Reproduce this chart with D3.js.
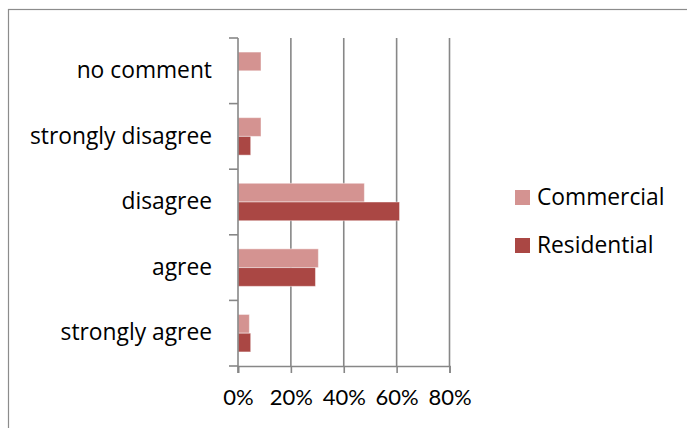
<!DOCTYPE html>
<html>
<head>
<meta charset="utf-8">
<script src="https://cdn.jsdelivr.net/npm/d3@7"></script>
<style>
  html, body { margin: 0; padding: 0; background: #fff; }
  svg { display: block; }
  text { font-family: "Open Sans", Lato, sans-serif; fill: #000; }
  .num { font-family: Lato, "Open Sans", sans-serif; }
</style>
</head>
<body>
<svg id="chart" width="687" height="428"></svg>
<script>
// Survey responses, share of respondents per answer
const categories = ["strongly agree", "agree", "disagree", "strongly disagree", "no comment"];
const seriesNames = ["Commercial", "Residential"];
const commercial = [0.043, 0.304, 0.478, 0.087, 0.087];
const residential = [0.048, 0.293, 0.611, 0.048, 0];
const ticks = [0, 0.2, 0.4, 0.6, 0.8];
const colors = ["#D49391", "#AA4744"];

const svg = d3.select("#chart");
const W = 687, H = 428;

// outer chart frame
svg.append("rect")
  .attr("x", 8.5).attr("y", 9.5)
  .attr("width", W + 10).attr("height", H + 10)
  .attr("fill", "#fff")
  .attr("stroke", "#8c8c8c").attr("stroke-width", 1.2);

const plot = { left: 238, right: 449.5, top: 38, bottom: 366 };

const x = d3.scaleLinear().domain([0, 0.8]).range([plot.left, plot.right]);
// categories listed bottom-to-top
const y = d3.scaleBand()
  .domain(categories.slice().reverse())
  .range([plot.top, plot.bottom])
  .paddingInner(0).paddingOuter(0);
const inner = d3.scaleBand()
  .domain(seriesNames)
  .range([0, y.bandwidth()])
  .paddingInner(0)
  .paddingOuter(0.75);

const g = svg.append("g");

// vertical gridlines
g.selectAll("line.grid")
  .data(ticks.slice(1))
  .join("line")
  .attr("class", "grid")
  .attr("x1", d => x(d)).attr("x2", d => x(d))
  .attr("y1", plot.top).attr("y2", plot.bottom)
  .attr("stroke", "#878787").attr("stroke-width", 1.6);

// bars
const rows = categories.map((c, i) => ({ c, vals: [commercial[i], residential[i]] }));
const grp = g.selectAll("g.row")
  .data(rows)
  .join("g")
  .attr("class", "row")
  .attr("transform", d => `translate(0,${y(d.c)})`);

grp.selectAll("rect")
  .data(d => d.vals.map((v, k) => ({ v, s: seriesNames[k], k })))
  .join("rect")
  .attr("x", x(0))
  .attr("y", d => inner(d.s))
  .attr("width", d => x(d.v) - x(0))
  .attr("height", inner.bandwidth())
  .attr("fill", d => colors[d.k])
  .attr("stroke", d => d.v > 0 ? "rgba(255,255,255,0.45)" : "none")
  .attr("stroke-width", 1);

// category axis
const yAxis = d3.axisLeft(y).tickSize(0).tickPadding(0);
const ya = g.append("g").attr("transform", `translate(${plot.left},0)`).call(yAxis);
ya.select(".domain").remove();
ya.selectAll("text")
  .attr("x", -26)
  .attr("font-size", 22.8)
  .attr("font-family", null)
  .attr("fill", "#000");
ya.selectAll(".tick line").remove();

// category boundary tick marks
const bounds = y.domain().map(d => y(d)).concat([plot.bottom]);
g.selectAll("line.ytick")
  .data(bounds)
  .join("line")
  .attr("class", "ytick")
  .attr("x1", plot.left - 9).attr("x2", plot.left)
  .attr("y1", d => d).attr("y2", d => d)
  .attr("stroke", "#878787").attr("stroke-width", 1.6);

// value axis
const xAxis = d3.axisBottom(x).tickValues(ticks).tickFormat(d3.format(".0%")).tickSize(7).tickPadding(16);
const xa = g.append("g").attr("transform", `translate(0,${plot.bottom})`).call(xAxis);
xa.select(".domain").attr("stroke", "#878787").attr("stroke-width", 1.6);
xa.selectAll(".tick line").attr("stroke", "#878787").attr("stroke-width", 1.6);
xa.selectAll("text")
  .attr("class", "num")
  .attr("font-size", 22)
  .attr("font-family", null)
  .attr("fill", "#000");

// vertical category axis line
g.append("line")
  .attr("x1", plot.left).attr("x2", plot.left)
  .attr("y1", plot.top).attr("y2", plot.bottom + 7)
  .attr("stroke", "#878787").attr("stroke-width", 1.6);

// legend
const legend = svg.append("g").attr("transform", "translate(515,190)");
const li = legend.selectAll("g")
  .data(seriesNames)
  .join("g")
  .attr("transform", (d, i) => `translate(0,${i * 48})`);
li.append("rect")
  .attr("width", 15).attr("height", 15)
  .attr("fill", (d, i) => colors[i]);
li.append("text")
  .attr("x", 22).attr("y", 7.5)
  .attr("dy", "0.35em")
  .attr("font-size", 22.8)
  .text(d => d);
</script>
</body>
</html>
